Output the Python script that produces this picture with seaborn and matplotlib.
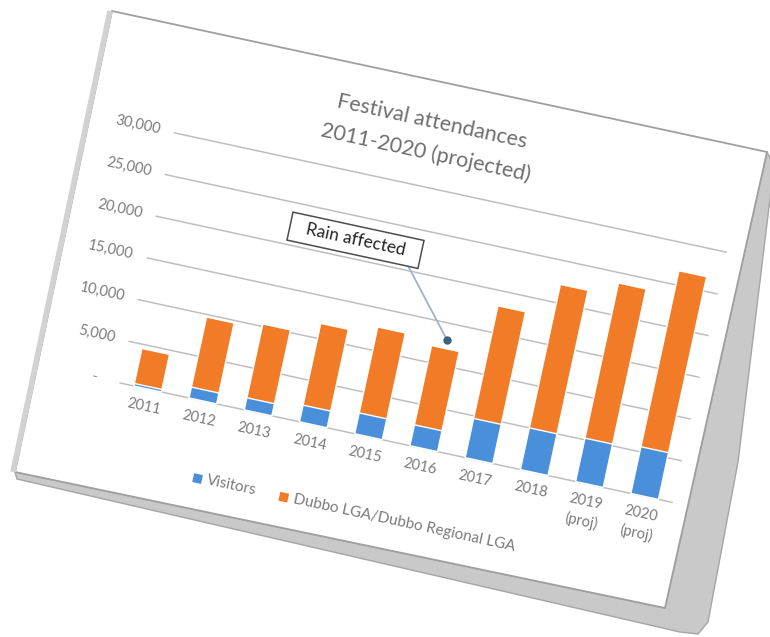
import matplotlib
matplotlib.use("Agg")
import matplotlib.pyplot as plt
import matplotlib.transforms as mtransforms
from matplotlib.patches import Polygon, Rectangle
import pandas as pd
import seaborn as sns

# ---- data -------------------------------------------------------------
years = ["2011", "2012", "2013", "2014", "2015", "2016", "2017", "2018",
         "2019\n(proj)", "2020\n(proj)"]
visitors = [300, 1300, 1450, 2000, 2500, 2500, 4700, 5000, 5200, 5600]
dubbo_lga = [4200, 8400, 8850, 9800, 10300, 9500, 13500, 17200, 18600, 21100]
y_ticks = [0, 5000, 10000, 15000, 20000, 25000, 30000]
y_tick_labels = ["-", "5,000", "10,000", "15,000", "20,000", "25,000", "30,000"]
series_names = ["Visitors", "Dubbo LGA/Dubbo Regional LGA"]
title_lines = ["Festival attendances", "2011-2020 (projected)"]
note_text = "Rain affected"
note_index = 5

# ---- style ------------------------------------------------------------
BLUE = "#4a8fd9"
ORANGE = "#f27b27"
GRID = "#bfbfbf"
LABEL = "#7b7b7b"
TITLE = "#6e6e6e"

sns.set_theme(style="white")
plt.rcParams["font.family"] = ["Lato", "DejaVu Sans"]

W, H, DPI = 770, 637, 100
TILT = -12.2              # the printed page lies slightly turned
PLOT_W, PLOT_H = 565, 256  # plot area size in pixels
YMAX = 30000
n = len(years)
px_x = n / PLOT_W          # data units per pixel along the category axis
px_y = YMAX / PLOT_H       # data units per pixel along the value axis

fig = plt.figure(figsize=(W / DPI, H / DPI), dpi=DPI)
fig.patch.set_facecolor("white")

# ---- the sheet of paper (pixel coordinates, y downwards) --------------
bg = fig.add_axes([0, 0, 1, 1])
bg.set_xlim(0, W)
bg.set_ylim(H, 0)
bg.set_axis_off()
card = [(112, 11), (767, 152), (665, 608), (15, 472)]
shadow = [(767, 152), (774, 166), (738, 462), (708, 622), (698, 634),
          (680, 632), (17, 479), (15, 472), (665, 608)]
bg.add_patch(Polygon(shadow, closed=True, facecolor="#c9c9c9",
                     edgecolor="#a5a5a5", lw=1.0))
bg.plot([110, 13], [11, 472], color="#d2d2d2", lw=4, solid_capstyle="butt")
bg.add_patch(Polygon(card, closed=True, facecolor="white",
                     edgecolor="#9f9f9f", lw=1.3))

# ---- chart, drawn in a turned frame -----------------------------------
ax = fig.add_axes([120 / W, 254 / H, PLOT_W / W, PLOT_H / H])
x0, y0 = ax.transAxes.transform((0, 0))
rot = mtransforms.Affine2D().rotate_deg_around(x0, y0, TILT)
tr = ax.transData + rot

df = pd.DataFrame({"year": years, "visitors": visitors, "dubbo": dubbo_lga})
df["total"] = df["visitors"] + df["dubbo"]

sns.barplot(data=df, x="year", y="total", color=ORANGE, saturation=1,
            width=0.5, errorbar=None, ax=ax)
sns.barplot(data=df, x="year", y="visitors", color=BLUE, saturation=1,
            width=0.5, errorbar=None, ax=ax)

ax.set_xlim(-0.5, n - 0.5)
ax.set_ylim(0, YMAX)
ax.set_autoscale_on(False)
ax.set_axis_off()

for p in ax.patches:
    p.set_transform(tr)
    p.set_clip_on(False)
    p.set_zorder(2)

# gridlines
for yv in y_ticks:
    ax.plot([-0.5, n - 0.5], [yv, yv], color=GRID, lw=1.1, transform=tr,
            clip_on=False, zorder=1)

txt = dict(transform=tr, rotation=TILT, rotation_mode="anchor", clip_on=False)

# value axis labels
for yv, lab in zip(y_ticks, y_tick_labels):
    gap = 24 if lab == "-" else 14
    ax.text(-0.5 - gap * px_x, yv, lab, ha="right", va="center",
            fontsize=10.5, color=LABEL, **txt)

# category labels
for i, lab in enumerate(years):
    ax.text(i, -11 * px_y, lab, ha="center", va="top", fontsize=10.5,
            color=LABEL, linespacing=1.45, **txt)

# title
ax.text(3.92, 37700, title_lines[0], ha="center", va="center",
        fontsize=15.5, color=TITLE, **txt)
ax.text(3.92, 34000, title_lines[1], ha="center", va="center",
        fontsize=15.5, color=TITLE, **txt)

# legend
leg_y = -77 * px_y
msize = 9
for xm, name, col in [(1.12, series_names[0], BLUE),
                      (2.68, series_names[1], ORANGE)]:
    ax.add_patch(Rectangle((xm, leg_y - msize * px_y / 2), msize * px_x,
                           msize * px_y, facecolor=col, edgecolor="none",
                           transform=tr, clip_on=False, zorder=3))
    ax.text(xm + (msize + 5) * px_x, leg_y, name, ha="left", va="center",
            fontsize=11, color=LABEL, **txt)

# callout for the rain-affected year
box_cx, box_cy = 3.04, 22180
box_w, box_h = 134 * px_x, 28.6 * px_y
ax.add_patch(Rectangle((box_cx - box_w / 2, box_cy - box_h / 2), box_w, box_h,
                       facecolor="white", edgecolor="#4d4d4d", lw=1.1,
                       transform=tr, clip_on=False, zorder=4))
ax.text(box_cx, box_cy, note_text, ha="center", va="center", fontsize=12.5,
        color="#222222", zorder=5, **txt)
tip = df["total"][note_index] + 1000
ax.plot([4.05, note_index], [box_cy - box_h / 2, tip], color="#9fb3c6",
        lw=1.3, transform=tr, clip_on=False, zorder=3)
ax.plot([note_index], [tip], "o", ms=5, color="#3d5f82", transform=tr,
        clip_on=False, zorder=4)

fig.savefig("out.png", dpi=DPI, facecolor="white")
